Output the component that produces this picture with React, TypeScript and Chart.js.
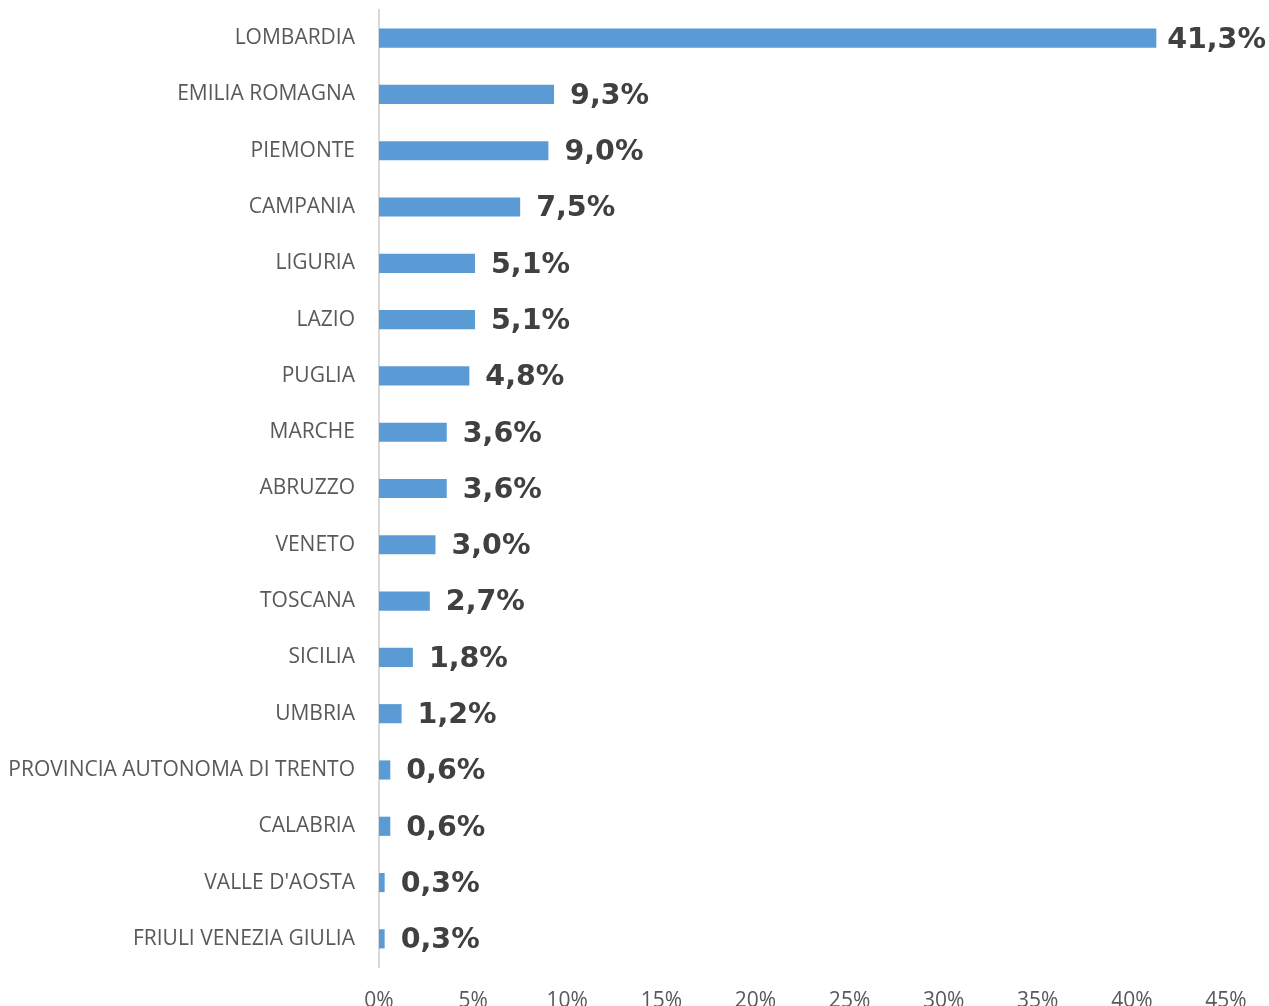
import React, { useEffect, useRef } from "react";
import { Chart, registerables } from "chart.js";

Chart.register(...registerables);

const categories = [
  "LOMBARDIA",
  "EMILIA ROMAGNA",
  "PIEMONTE",
  "CAMPANIA",
  "LIGURIA",
  "LAZIO",
  "PUGLIA",
  "MARCHE",
  "ABRUZZO",
  "VENETO",
  "TOSCANA",
  "SICILIA",
  "UMBRIA",
  "PROVINCIA AUTONOMA DI TRENTO",
  "CALABRIA",
  "VALLE D'AOSTA",
  "FRIULI VENEZIA GIULIA",
];

const shares = [41.3, 9.3, 9.0, 7.5, 5.1, 5.1, 4.8, 3.6, 3.6, 3.0, 2.7, 1.8, 1.2, 0.6, 0.6, 0.3, 0.3];

const xTicks = [0, 5, 10, 15, 20, 25, 30, 35, 40, 45];

const fmt = (v: number) => v.toFixed(1).replace(".", ",") + "%";

const valueLabels = {
  id: "valueLabels",
  afterDatasetsDraw(chart: any) {
    const ctx = chart.ctx;
    const meta = chart.getDatasetMeta(0);
    ctx.save();
    ctx.font = "bold 28.5px 'DejaVu Sans', Verdana, sans-serif";
    ctx.fillStyle = "#404040";
    ctx.textAlign = "left";
    ctx.textBaseline = "middle";
    meta.data.forEach((bar: any, i: number) => {
      const txt = fmt(shares[i]);
      const w = ctx.measureText(txt).width;
      const x = Math.min(bar.x + 16, chart.width - w - 3);
      ctx.fillText(txt, x, bar.y + 2);
    });
    ctx.restore();
  },
};

export default function App() {
  const ref = useRef<HTMLCanvasElement>(null);
  useEffect(() => {
    if (!ref.current) return;
    const chart = new Chart(ref.current, {
      type: "bar",
      data: {
        labels: categories,
        datasets: [
          {
            data: shares,
            backgroundColor: "#5B9BD5",
            borderWidth: 0,
            barPercentage: 0.34,
            categoryPercentage: 1,
          },
        ],
      },
      options: {
        indexAxis: "y",
        animation: false,
        responsive: true,
        maintainAspectRatio: false,
        layout: { padding: { top: 10, right: 43, left: 0, bottom: 0 } },
        plugins: { legend: { display: false }, tooltip: { enabled: false } },
        scales: {
          x: {
            min: 0,
            max: 45,
            afterBuildTicks: (scale: any) => {
              scale.ticks = xTicks.map((v) => ({ value: v }));
            },
            afterFit: (scale: any) => {
              scale.height = 63;
            },
            grid: { display: false },
            border: { display: false },
            ticks: {
              padding: 13,
              color: "#595959",
              font: { family: "'Open Sans', sans-serif", size: 21 },
              callback: (v: any) => v + "%",
              maxRotation: 0,
            },
          },
          y: {
            afterFit: (scale: any) => {
              scale.width = 379;
              scale.paddingTop = 0;
              scale.paddingBottom = 0;
            },
            grid: { display: false },
            border: { display: true, color: "#d9d9d9", width: 2 },
            ticks: {
              padding: 16,
              color: "#595959",
              font: { family: "'Open Sans', sans-serif", size: 21 },
              autoSkip: false,
            },
          },
        },
      },
      plugins: [valueLabels],
    });
    return () => chart.destroy();
  }, []);
  return (
    <div style={{ position: "fixed", left: 0, top: 0, width: 1269, height: 1030, background: "#fff" }}>
      <canvas ref={ref} />
    </div>
  );
}
